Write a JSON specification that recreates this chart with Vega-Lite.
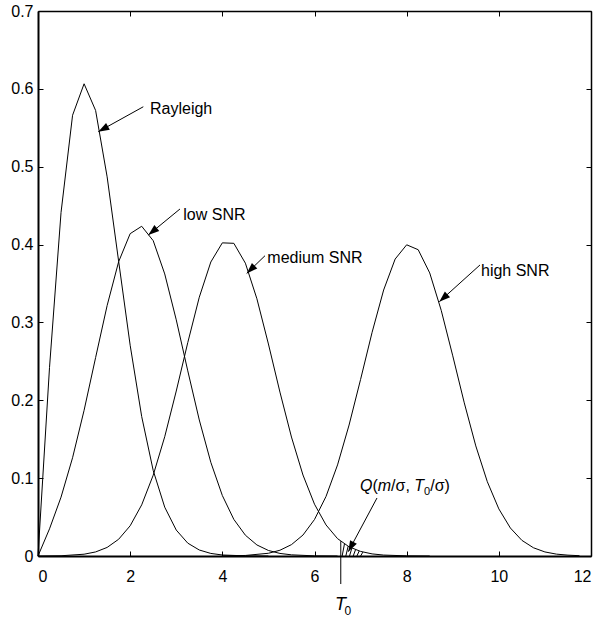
{
  "$schema": "https://vega.github.io/schema/vega-lite/v6.json",
  "width": 553,
  "height": 545,
  "autosize": "none",
  "padding": {"left": 38, "top": 11, "right": 11, "bottom": 65},
  "background": "white",
  "config": {
    "view": {"stroke": null},
    "axis": {
      "domainColor": "black", "domainWidth": 2, "tickColor": "black", "tickSize": -5, "tickWidth": 1,
      "labelFont": "Liberation Sans", "labelFontSize": 16, "labelColor": "black", "grid": false, "title": null, "labelPadding": 8
    },
    "text": {"font": "Liberation Sans", "fontSize": 16, "color": "black", "align": "left", "baseline": "alphabetic"}
  },
  "datasets": {
    "curves": [
      {"series": "Rayleigh", "x": 0, "y": 0}, {"series": "Rayleigh", "x": 0.25, "y": 0.2423}, {"series": "Rayleigh", "x": 0.5, "y": 0.4412}, {"series": "Rayleigh", "x": 0.75, "y": 0.5661}, {"series": "Rayleigh", "x": 1, "y": 0.6065}, {"series": "Rayleigh", "x": 1.25, "y": 0.5723}, {"series": "Rayleigh", "x": 1.5, "y": 0.487}, {"series": "Rayleigh", "x": 1.75, "y": 0.3785}, {"series": "Rayleigh", "x": 2, "y": 0.2707}, {"series": "Rayleigh", "x": 2.25, "y": 0.1791}, {"series": "Rayleigh", "x": 2.5, "y": 0.1098}, {"series": "Rayleigh", "x": 2.75, "y": 0.0627}, {"series": "Rayleigh", "x": 3, "y": 0.0333}, {"series": "Rayleigh", "x": 3.25, "y": 0.0165}, {"series": "Rayleigh", "x": 3.5, "y": 0.0077}, {"series": "Rayleigh", "x": 3.75, "y": 0.0033}, {"series": "Rayleigh", "x": 4, "y": 0.0013}, {"series": "Rayleigh", "x": 4.5, "y": 0.0002}, {"series": "Rayleigh", "x": 5, "y": 0},
      {"series": "low", "x": 0, "y": 0}, {"series": "low", "x": 0.25, "y": 0.0349}, {"series": "low", "x": 0.5, "y": 0.0756}, {"series": "low", "x": 0.75, "y": 0.1262}, {"series": "low", "x": 1, "y": 0.1871}, {"series": "low", "x": 1.25, "y": 0.2548}, {"series": "low", "x": 1.5, "y": 0.3217}, {"series": "low", "x": 1.75, "y": 0.378}, {"series": "low", "x": 2, "y": 0.414}, {"series": "low", "x": 2.25, "y": 0.4235}, {"series": "low", "x": 2.5, "y": 0.405}, {"series": "low", "x": 2.75, "y": 0.3623}, {"series": "low", "x": 3, "y": 0.3033}, {"series": "low", "x": 3.25, "y": 0.2378}, {"series": "low", "x": 3.5, "y": 0.1747}, {"series": "low", "x": 3.75, "y": 0.1203}, {"series": "low", "x": 4, "y": 0.0777}, {"series": "low", "x": 4.25, "y": 0.047}, {"series": "low", "x": 4.5, "y": 0.0267}, {"series": "low", "x": 4.75, "y": 0.0142}, {"series": "low", "x": 5, "y": 0.0071}, {"series": "low", "x": 5.25, "y": 0.0033}, {"series": "low", "x": 5.5, "y": 0.0015}, {"series": "low", "x": 6, "y": 0.0002}, {"series": "low", "x": 6.5, "y": 0},
      {"series": "medium", "x": 0, "y": 0}, {"series": "medium", "x": 0.5, "y": 0.0003}, {"series": "medium", "x": 1, "y": 0.0023}, {"series": "medium", "x": 1.25, "y": 0.0052}, {"series": "medium", "x": 1.5, "y": 0.011}, {"series": "medium", "x": 1.75, "y": 0.0215}, {"series": "medium", "x": 2, "y": 0.0388}, {"series": "medium", "x": 2.25, "y": 0.0657}, {"series": "medium", "x": 2.5, "y": 0.1038}, {"series": "medium", "x": 2.75, "y": 0.1532}, {"series": "medium", "x": 3, "y": 0.2119}, {"series": "medium", "x": 3.25, "y": 0.2741}, {"series": "medium", "x": 3.5, "y": 0.3324}, {"series": "medium", "x": 3.75, "y": 0.3776}, {"series": "medium", "x": 4, "y": 0.4022}, {"series": "medium", "x": 4.25, "y": 0.4016}, {"series": "medium", "x": 4.5, "y": 0.3761}, {"series": "medium", "x": 4.75, "y": 0.3304}, {"series": "medium", "x": 5, "y": 0.2723}, {"series": "medium", "x": 5.25, "y": 0.2105}, {"series": "medium", "x": 5.5, "y": 0.1528}, {"series": "medium", "x": 5.75, "y": 0.104}, {"series": "medium", "x": 6, "y": 0.0665}, {"series": "medium", "x": 6.25, "y": 0.0399}, {"series": "medium", "x": 6.5, "y": 0.0223}, {"series": "medium", "x": 6.75, "y": 0.0118}, {"series": "medium", "x": 7, "y": 0.0059}, {"series": "medium", "x": 7.25, "y": 0.0027}, {"series": "medium", "x": 7.5, "y": 0.0012}, {"series": "medium", "x": 8, "y": 0.0002}, {"series": "medium", "x": 8.5, "y": 0},
      {"series": "high", "x": 4, "y": 0.0001}, {"series": "high", "x": 4.5, "y": 0.0007}, {"series": "high", "x": 5, "y": 0.0035}, {"series": "high", "x": 5.25, "y": 0.0074}, {"series": "high", "x": 5.5, "y": 0.0146}, {"series": "high", "x": 5.75, "y": 0.0269}, {"series": "high", "x": 6, "y": 0.0469}, {"series": "high", "x": 6.25, "y": 0.0765}, {"series": "high", "x": 6.5, "y": 0.117}, {"series": "high", "x": 6.75, "y": 0.1682}, {"series": "high", "x": 7, "y": 0.2268}, {"series": "high", "x": 7.25, "y": 0.2873}, {"series": "high", "x": 7.5, "y": 0.3416}, {"series": "high", "x": 7.75, "y": 0.3814}, {"series": "high", "x": 8, "y": 0.3997}, {"series": "high", "x": 8.25, "y": 0.3934}, {"series": "high", "x": 8.5, "y": 0.3636}, {"series": "high", "x": 8.75, "y": 0.3155}, {"series": "high", "x": 9, "y": 0.2571}, {"series": "high", "x": 9.25, "y": 0.1967}, {"series": "high", "x": 9.5, "y": 0.1414}, {"series": "high", "x": 9.75, "y": 0.0954}, {"series": "high", "x": 10, "y": 0.0605}, {"series": "high", "x": 10.25, "y": 0.036}, {"series": "high", "x": 10.5, "y": 0.0201}, {"series": "high", "x": 10.75, "y": 0.0106}, {"series": "high", "x": 11, "y": 0.0052}, {"series": "high", "x": 11.25, "y": 0.0024}, {"series": "high", "x": 11.5, "y": 0.0011}, {"series": "high", "x": 11.75, "y": 0.0004}
    ],
    "hatch": [
      {"x": 6.6, "y": 0, "x2": 6.65, "y2": 0.0155},
      {"x": 6.68, "y": 0, "x2": 6.73, "y2": 0.0126},
      {"x": 6.76, "y": 0, "x2": 6.81, "y2": 0.01},
      {"x": 6.84, "y": 0, "x2": 6.89, "y2": 0.008},
      {"x": 6.92, "y": 0, "x2": 6.97, "y2": 0.0064},
      {"x": 7.0, "y": 0, "x2": 7.05, "y2": 0.005}
    ],
    "threshold": [{"x": 6.57, "y": 0.019, "y2": -0.036}],
    "arrows": [
      {"name": "Rayleigh", "xt": 2.285, "yt": 0.577, "xh": 1.309, "yh": 0.545},
      {"name": "low", "xt": 3.081, "yt": 0.4457, "xh": 2.394, "yh": 0.4123},
      {"name": "medium", "xt": 4.926, "yt": 0.3857, "xh": 4.529, "yh": 0.363},
      {"name": "high", "xt": 9.591, "yt": 0.3738, "xh": 8.708, "yh": 0.3266},
      {"name": "Q", "xt": 7.356, "yt": 0.0745, "xh": 6.733, "yh": 0.0055}
    ],
    "labels": [
      {"label": "Rayleigh", "x": 2.43, "y": 0.568},
      {"label": "low SNR", "x": 3.153, "y": 0.4316},
      {"label": "medium SNR", "x": 4.977, "y": 0.3759},
      {"label": "high SNR", "x": 9.613, "y": 0.3596}
    ],
    "qlabel": [{"x": 6.987, "y": 0.0841}],
    "t0label": [{"x": 6.445, "y": -0.0694}]
  },
  "layer": [
    {
      "data": {"name": "curves"},
      "mark": {"type": "line", "color": "black", "strokeWidth": 1},
      "encoding": {
        "x": {"field": "x", "type": "quantitative", "scale": {"domain": [0, 12], "nice": false, "zero": false},
              "axis": {"orient": "bottom", "labelPadding": 17, "values": [0, 2, 4, 6, 8, 10, 12]}},
        "y": {"field": "y", "type": "quantitative", "scale": {"domain": [0, 0.7], "nice": false, "zero": false},
              "axis": {"orient": "left", "labelPadding": 10, "values": [0, 0.1, 0.2, 0.3, 0.4, 0.5, 0.6, 0.7], "format": ".1~f"}},
        "detail": {"field": "series"}
      }
    },
    {
      "data": {"name": "hatch"},
      "mark": {"type": "rule", "color": "black", "strokeWidth": 1},
      "encoding": {
        "x": {"field": "x", "type": "quantitative", "axis": {"orient": "top", "labels": false, "domainWidth": 1.5, "values": [0, 2, 4, 6, 8, 10, 12]}},
        "y": {"field": "y", "type": "quantitative", "axis": {"orient": "right", "labels": false, "domainWidth": 1.5, "values": [0, 0.1, 0.2, 0.3, 0.4, 0.5, 0.6, 0.7]}},
        "x2": {"field": "x2"},
        "y2": {"field": "y2"}
      }
    },
    {
      "data": {"name": "threshold"},
      "mark": {"type": "rule", "color": "black", "strokeWidth": 1},
      "encoding": {
        "x": {"field": "x", "type": "quantitative", "axis": null},
        "y": {"field": "y", "type": "quantitative", "axis": null},
        "y2": {"field": "y2"}
      }
    },
    {
      "data": {"name": "arrows"},
      "mark": {"type": "rule", "color": "black", "strokeWidth": 1},
      "encoding": {
        "x": {"field": "xt", "type": "quantitative", "axis": null},
        "y": {"field": "yt", "type": "quantitative", "axis": null},
        "x2": {"field": "xh"},
        "y2": {"field": "yh"}
      }
    },
    {
      "data": {"name": "arrows"},
      "transform": [{"filter": "datum.name === 'Rayleigh'"}],
      "mark": {"type": "point", "shape": "M0,0 L-1,-0.35 L-1,0.35 Z", "size": 484, "filled": true, "color": "black", "opacity": 1, "strokeWidth": 0, "angle": 151},
      "encoding": {"x": {"field": "xh", "type": "quantitative", "axis": null}, "y": {"field": "yh", "type": "quantitative", "axis": null}}
    },
    {
      "data": {"name": "arrows"},
      "transform": [{"filter": "datum.name === 'low'"}],
      "mark": {"type": "point", "shape": "M0,0 L-1,-0.35 L-1,0.35 Z", "size": 484, "filled": true, "color": "black", "opacity": 1, "strokeWidth": 0, "angle": 140.6},
      "encoding": {"x": {"field": "xh", "type": "quantitative", "axis": null}, "y": {"field": "yh", "type": "quantitative", "axis": null}}
    },
    {
      "data": {"name": "arrows"},
      "transform": [{"filter": "datum.name === 'medium'"}],
      "mark": {"type": "point", "shape": "M0,0 L-1,-0.35 L-1,0.35 Z", "size": 484, "filled": true, "color": "black", "opacity": 1, "strokeWidth": 0, "angle": 136},
      "encoding": {"x": {"field": "xh", "type": "quantitative", "axis": null}, "y": {"field": "yh", "type": "quantitative", "axis": null}}
    },
    {
      "data": {"name": "arrows"},
      "transform": [{"filter": "datum.name === 'high'"}],
      "mark": {"type": "point", "shape": "M0,0 L-1,-0.35 L-1,0.35 Z", "size": 484, "filled": true, "color": "black", "opacity": 1, "strokeWidth": 0, "angle": 137.9},
      "encoding": {"x": {"field": "xh", "type": "quantitative", "axis": null}, "y": {"field": "yh", "type": "quantitative", "axis": null}}
    },
    {
      "data": {"name": "arrows"},
      "transform": [{"filter": "datum.name === 'Q'"}],
      "mark": {"type": "point", "shape": "M0,0 L-1,-0.35 L-1,0.35 Z", "size": 484, "filled": true, "color": "black", "opacity": 1, "strokeWidth": 0, "angle": 118.1},
      "encoding": {"x": {"field": "xh", "type": "quantitative", "axis": null}, "y": {"field": "yh", "type": "quantitative", "axis": null}}
    },
    {
      "data": {"name": "labels"},
      "mark": {"type": "text"},
      "encoding": {"x": {"field": "x", "type": "quantitative", "axis": null}, "y": {"field": "y", "type": "quantitative", "axis": null}, "text": {"field": "label"}}
    },
    {
      "data": {"name": "qlabel"},
      "layer": [
        {"mark": {"type": "text", "text": "Q", "fontStyle": "italic", "dx": 0}},
        {"mark": {"type": "text", "text": "(", "dx": 12.45}},
        {"mark": {"type": "text", "text": "m", "fontStyle": "italic", "dx": 17.78}},
        {"mark": {"type": "text", "text": "/σ,", "dx": 31.11}},
        {"mark": {"type": "text", "text": "T", "fontStyle": "italic", "dx": 54.33}},
        {"mark": {"type": "text", "text": "0", "fontSize": 11, "dx": 64.11, "dy": 4}},
        {"mark": {"type": "text", "text": "/σ)", "dx": 70.2}}
      ],
      "encoding": {"x": {"field": "x", "type": "quantitative", "axis": null}, "y": {"field": "y", "type": "quantitative", "axis": null}}
    },
    {
      "data": {"name": "t0label"},
      "layer": [
        {"mark": {"type": "text", "text": "T", "fontStyle": "italic", "fontSize": 18, "dx": 0}},
        {"mark": {"type": "text", "text": "0", "fontSize": 12, "dx": 9.5, "dy": 5}}
      ],
      "encoding": {"x": {"field": "x", "type": "quantitative", "axis": null}, "y": {"field": "y", "type": "quantitative", "axis": null}}
    }
  ],
  "resolve": {"axis": {"x": "independent", "y": "independent"}}
}
